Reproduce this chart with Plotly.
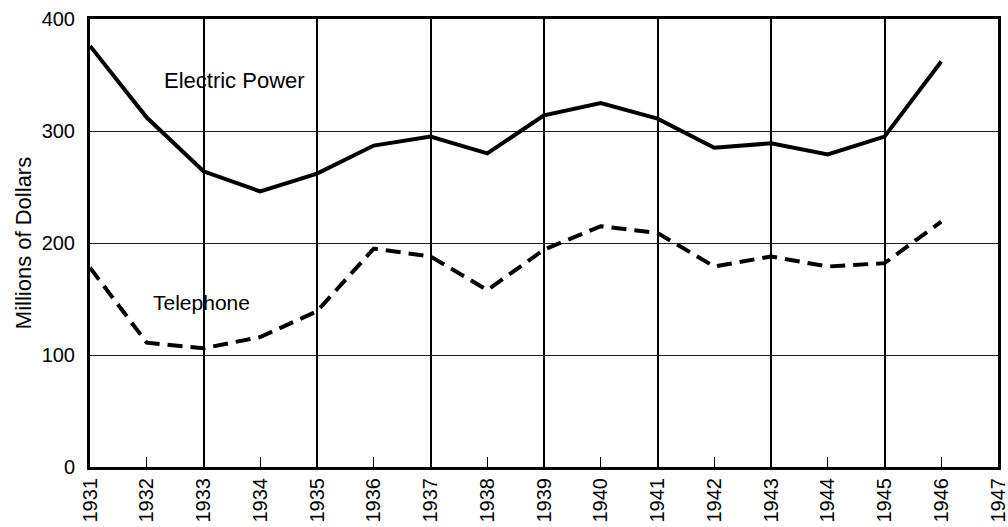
import plotly.graph_objects as go

# Annual values, millions of dollars
years = list(range(1931, 1947))
electric_power = [376, 312, 264, 246, 262, 287, 295, 280, 314, 325, 311, 285, 289, 279, 295, 362]
telephone = [178, 111, 106, 116, 139, 195, 188, 158, 194, 215, 209, 179, 188, 179, 182, 219]

x_ticks = list(range(1931, 1948))
x_grid = list(range(1933, 1948, 2))
y_ticks = [0, 100, 200, 300, 400]

FONT = "Liberation Sans"

fig = go.Figure()
fig.add_trace(go.Scatter(
    x=years, y=electric_power, mode="lines", name="Electric Power",
    line=dict(color="black", width=4),
))
fig.add_trace(go.Scatter(
    x=years, y=telephone, mode="lines", name="Telephone",
    line=dict(color="black", width=4, dash="15px,8px"),
))

fig.add_annotation(x=1933.55, y=345, text="Electric Power", showarrow=False,
                   font=dict(family=FONT, size=22, color="black"))
fig.add_annotation(x=1932.96, y=147, text="Telephone", showarrow=False,
                   font=dict(family=FONT, size=21, color="black"))

fig.update_xaxes(
    range=[1931, 1947],
    tickvals=x_ticks,
    ticktext=[str(v) for v in x_ticks],
    tickangle=-90,
    ticks="inside", ticklen=10, tickwidth=1, tickcolor="black",
    showgrid=False,
    minor=dict(tickvals=x_grid, showgrid=True, gridcolor="black", gridwidth=1.6),
    showline=True, linecolor="black", linewidth=3, mirror=True,
    zeroline=False, automargin=False, ticklabeloverflow="allow",
    tickfont=dict(family=FONT, size=20, color="black"),
)
fig.update_yaxes(
    range=[0, 400],
    tickvals=y_ticks,
    ticks="", ticklabelstandoff=8,
    showgrid=True, gridcolor="#1a1a1a", gridwidth=1.3,
    showline=True, linecolor="black", linewidth=3, mirror=True,
    zeroline=False, automargin=False,
    tickfont=dict(family=FONT, size=20, color="black"),
    title=dict(text="Millions of Dollars", standoff=4,
               font=dict(family=FONT, size=22, color="black")),
)

fig.update_layout(
    width=1008, height=527,
    margin=dict(l=90, r=10, t=19, b=60),
    plot_bgcolor="white", paper_bgcolor="white",
    showlegend=False,
)

fig.write_html("out.html")
